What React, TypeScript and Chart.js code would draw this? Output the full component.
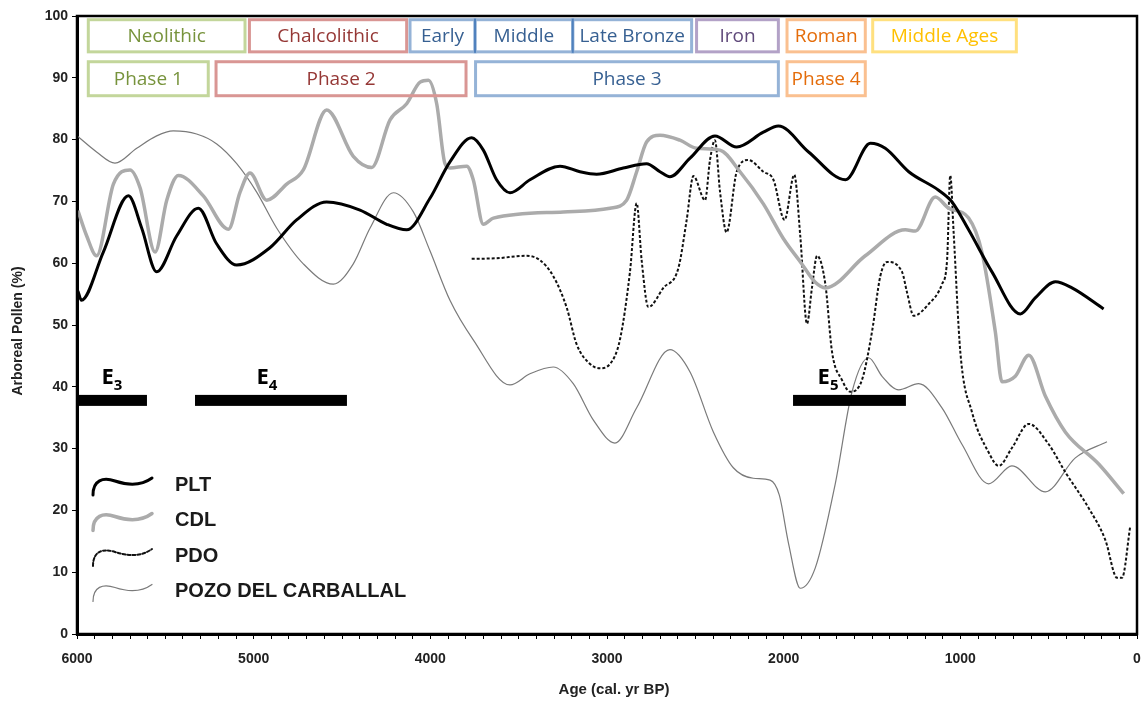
import { useEffect, useRef } from "react";
import { Chart, registerables } from "chart.js";

Chart.register(...registerables);

// PLT
const pltAge = [5995, 5975, 5851, 5709, 5634, 5549, 5436, 5313, 5209, 5096, 4908, 4757, 4587, 4398, 4247, 4134, 4002, 3889, 3766, 3700, 3625, 3549, 3436, 3266, 3153, 3059, 2908, 2776, 2700, 2644, 2530, 2389, 2266, 2115, 2030, 1859, 1650, 1509, 1425, 1292, 1123, 1047, 953, 821, 660, 576, 462, 368, 189];
const pltPollen = [55.5, 54.0, 61.8, 70.9, 65.7, 58.6, 64.4, 68.9, 63.1, 59.7, 62.5, 67.0, 69.9, 68.6, 66.3, 65.4, 70.5, 76.4, 80.3, 78.3, 73.5, 71.4, 73.5, 75.7, 74.8, 74.4, 75.4, 76.1, 74.8, 74.0, 77.0, 80.6, 78.8, 81.2, 82.2, 78.0, 73.5, 79.4, 78.6, 74.8, 71.8, 69.9, 65.4, 58.6, 51.8, 54.4, 57.0, 56.0, 52.6];

// CDL
const cdlAge = [5995, 5945, 5889, 5794, 5700, 5643, 5558, 5492, 5426, 5285, 5143, 5077, 5021, 4926, 4813, 4719, 4587, 4436, 4332, 4228, 4134, 4058, 4011, 3964, 3917, 3889, 3794, 3757, 3700, 3643, 3247, 2983, 2889, 2832, 2776, 2700, 2587, 2493, 2361, 2247, 2115, 2002, 1900, 1821, 1764, 1538, 1311, 1255, 1142, 1066, 953, 878, 802, 764, 689, 613, 519, 406, 217, 75];
const cdlPollen = [68.5, 64.4, 61.2, 72.8, 75.1, 72.2, 61.8, 70.2, 74.2, 70.9, 65.5, 71.5, 74.6, 70.2, 72.8, 75.1, 84.8, 77.3, 75.5, 83.2, 85.8, 89.3, 89.6, 85.8, 76.1, 75.4, 75.7, 73.5, 66.3, 67.3, 68.3, 68.9, 70.2, 74.8, 79.6, 80.7, 79.9, 78.6, 78.3, 74.8, 69.6, 64.0, 60.0, 56.9, 56.0, 61.2, 65.4, 65.2, 70.7, 68.9, 67.3, 61.8, 48.9, 40.8, 41.7, 45.1, 38.5, 32.7, 27.5, 22.7];

// PDO
const pdoAge = [3766, 3625, 3455, 3380, 3304, 3228, 3172, 3096, 3040, 2983, 2927, 2870, 2832, 2804, 2766, 2681, 2596, 2549, 2511, 2445, 2417, 2389, 2360, 2323, 2266, 2200, 2115, 2058, 1995, 1940, 1906, 1868, 1840, 1811, 1764, 1726, 1670, 1623, 1557, 1500, 1453, 1415, 1330, 1302, 1264, 1179, 1104, 1075, 1057, 1038, 1000, 934, 840, 783, 708, 613, 500, 406, 274, 179, 113, 85, 38];
const pdoPollen = [60.7, 60.8, 61.2, 60.5, 57.9, 52.8, 46.9, 43.7, 43.0, 43.7, 47.6, 58.6, 69.7, 60.5, 52.9, 56.0, 59.2, 67.0, 74.1, 70.2, 76.7, 79.9, 71.5, 65.0, 74.8, 76.7, 74.8, 73.5, 67.0, 74.3, 64.4, 50.2, 56.0, 61.2, 56.6, 45.6, 41.1, 39.2, 41.1, 48.9, 57.9, 60.2, 58.6, 55.3, 51.5, 53.4, 56.6, 60.5, 74.2, 65.0, 45.6, 35.9, 29.4, 27.2, 30.1, 34.0, 30.7, 26.2, 20.4, 15.2, 9.1, 9.1, 17.5];

// Pozo del Carballal
const pozoAge = [5995, 5889, 5785, 5662, 5549, 5455, 5323, 5209, 5096, 4983, 4870, 4719, 4549, 4436, 4341, 4209, 4096, 4002, 3889, 3757, 3549, 3436, 3304, 3191, 3077, 2955, 2832, 2644, 2530, 2398, 2285, 2172, 2077, 2025, 1972, 1906, 1821, 1708, 1613, 1519, 1443, 1349, 1236, 1104, 991, 840, 708, 519, 349, 170];
const pozoPollen = [80.5, 78.0, 76.2, 78.6, 80.6, 81.4, 80.9, 79.3, 76.1, 71.5, 65.7, 59.9, 56.6, 59.9, 65.7, 71.4, 68.3, 62.0, 54.0, 47.6, 40.3, 42.1, 43.2, 40.5, 34.6, 30.9, 36.6, 46.0, 42.4, 32.7, 26.9, 25.2, 24.9, 22.5, 14.6, 7.4, 10.7, 24.3, 39.2, 44.7, 41.7, 39.5, 40.5, 36.6, 30.7, 24.3, 27.2, 23.0, 28.5, 31.1];

// cultural periods (cal. yr BP)
const periodLabels = ["Neolithic", "Chalcolithic", "Early", "Middle", "Late Bronze", "Iron", "Roman", "Middle Ages"];
const periodFrom = [5936, 5024, 4115, 3747, 3194, 2493, 1981, 1496];
const periodTo = [5049, 4134, 3747, 3194, 2521, 2030, 1538, 683];
const periodGroup = [0, 1, 2, 2, 2, 3, 4, 5];

const phaseLabels = ["Phase 1", "Phase 2", "Phase 3", "Phase 4"];
const phaseFrom = [5936, 5213, 3744, 1981];
const phaseTo = [5257, 3798, 2030, 1538];
const phaseGroup = [0, 1, 2, 4];

// events
const eventNames = ["3", "4", "5"];
const eventFrom = [6000, 5332, 1947];
const eventTo = [5604, 4472, 1308];
const eventLabelAt = [5802, 4925, 1749];
const eventLevel = 37.8;

const legendNames = ["PLT", "CDL", "PDO", "POZO DEL CARBALLAL"];

const groupBorder = ["#c3d69b", "#d99694", "#95b3d7", "#b3a2c7", "#fac090", "#ffe07f"];
const groupText = ["#77933c", "#953735", "#376092", "#604a7b", "#e46c0a", "#ffc000"];

const toPoints = (ages: number[], vals: number[]) => ages.map((a, i) => ({ x: a, y: vals[i] }));

const overlay = {
  id: "overlay",
  afterDatasetsDraw(chart: any) {
    const { ctx, chartArea: area, scales } = chart;
    const xs = scales.x;
    const ys = scales.y;
    ctx.save();

    const drawBox = (label: string, from: number, to: number, g: number, top: number, bottom: number) => {
      const x0 = xs.getPixelForValue(from);
      const x1 = xs.getPixelForValue(to);
      const y0 = ys.getPixelForValue(top);
      const y1 = ys.getPixelForValue(bottom);
      ctx.lineWidth = 3;
      ctx.strokeStyle = groupBorder[g];
      ctx.setLineDash([]);
      ctx.strokeRect(x0, y0, x1 - x0, y1 - y0);
      ctx.fillStyle = groupText[g];
      ctx.font = '19px "Open Sans"';
      ctx.textAlign = "center";
      ctx.textBaseline = "middle";
      ctx.fillText(label, (x0 + x1) / 2, (y0 + y1) / 2 + 1);
    };

    periodLabels.forEach((l, i) => drawBox(l, periodFrom[i], periodTo[i], periodGroup[i], 99.4, 94.2));
    // dark dividers inside the Bronze age box
    periodLabels.forEach((_, i) => {
      if (i > 0 && periodGroup[i] === periodGroup[i - 1] && periodFrom[i] === periodTo[i - 1]) {
        const xp = xs.getPixelForValue(periodFrom[i]);
        ctx.strokeStyle = "#4f81bd";
        ctx.lineWidth = 2;
        ctx.beginPath();
        ctx.moveTo(xp, ys.getPixelForValue(99.4) - 1);
        ctx.lineTo(xp, ys.getPixelForValue(94.2) + 1);
        ctx.stroke();
      }
    });
    phaseLabels.forEach((l, i) => drawBox(l, phaseFrom[i], phaseTo[i], phaseGroup[i], 92.6, 87.1));

    // event bars
    eventNames.forEach((n, i) => {
      const x0 = xs.getPixelForValue(eventFrom[i]);
      const x1 = xs.getPixelForValue(eventTo[i]);
      const yc = ys.getPixelForValue(eventLevel);
      ctx.fillStyle = "#000";
      ctx.fillRect(x0, yc - 5.5, x1 - x0, 11);
      const xl = xs.getPixelForValue(eventLabelAt[i]);
      ctx.font = 'bold 22px "Open Sans"';
      ctx.textBaseline = "alphabetic";
      ctx.textAlign = "left";
      const wE = ctx.measureText("E").width;
      ctx.font = 'bold 15px "Open Sans"';
      const wS = ctx.measureText(n).width;
      const start = xl - (wE + wS) / 2;
      ctx.font = 'bold 22px "Open Sans"';
      ctx.fillText("E", start, yc - 16);
      ctx.font = 'bold 15px "Open Sans"';
      ctx.fillText(n, start + wE, yc - 10);
    });

    // legend
    const lx = area.left + 16;
    const ly = area.bottom - 150;
    chart.data.datasets.forEach((ds: any, i: number) => {
      const cy = ly + i * 35.5;
      ctx.strokeStyle = ds.borderColor;
      ctx.lineWidth = ds.borderWidth;
      ctx.setLineDash(ds.borderDash || []);
      ctx.lineCap = "round";
      ctx.beginPath();
      ctx.moveTo(lx, cy + 11);
      ctx.bezierCurveTo(lx, cy - 4, lx + 10, cy - 7, lx + 22, cy - 3);
      ctx.bezierCurveTo(lx + 34, cy + 1, lx + 48, cy + 2, lx + 59, cy - 6);
      ctx.stroke();
      ctx.setLineDash([]);
      ctx.fillStyle = "#1a1a1a";
      ctx.font = 'bold 20px "Liberation Sans"';
      ctx.textAlign = "left";
      ctx.textBaseline = "middle";
      ctx.fillText(legendNames[i], lx + 82, cy + 1);
    });
    ctx.restore();
  },
  afterDraw(chart: any) {
    const { ctx, chartArea: area } = chart;
    ctx.save();
    ctx.strokeStyle = "#000";
    ctx.lineWidth = 2.5;
    ctx.strokeRect(area.left, area.top, area.right - area.left, area.bottom - area.top);
    ctx.fillStyle = "#222";
    ctx.font = 'bold 15px "Liberation Sans"';
    ctx.textAlign = "center";
    ctx.textBaseline = "middle";
    ctx.fillText("Age (cal. yr BP)", 614, 690);
    ctx.translate(18, (area.top + area.bottom) / 2 + 6);
    ctx.rotate(-Math.PI / 2);
    ctx.font = 'bold 14px "Liberation Sans"';
    ctx.fillText("Arboreal Pollen (%)", 0, 0);
    ctx.restore();
  },
};

const App = () => {
  const canvasRef = useRef<HTMLCanvasElement>(null);
  const chartRef = useRef<Chart | null>(null);

  useEffect(() => {
    document.body.style.margin = "0";
    if (!canvasRef.current) return;
    chartRef.current?.destroy();
    const tickFont = { family: "Liberation Sans", size: 14, weight: "bold" as const };
    chartRef.current = new Chart(canvasRef.current, {
      type: "line",
      data: {
        datasets: [
          { label: "PLT", data: toPoints(pltAge, pltPollen), borderColor: "#000", borderWidth: 3 },
          { label: "CDL", data: toPoints(cdlAge, cdlPollen), borderColor: "#ababab", borderWidth: 3.5 },
          { label: "PDO", data: toPoints(pdoAge, pdoPollen), borderColor: "#111", borderWidth: 2, borderDash: [3, 2] },
          { label: "POZO DEL CARBALLAL", data: toPoints(pozoAge, pozoPollen), borderColor: "#7a7a7a", borderWidth: 1.2 },
        ],
      },
      options: {
        animation: false,
        responsive: false,
        events: [],
        elements: {
          point: { radius: 0 },
          line: { cubicInterpolationMode: "monotone", fill: false },
        },
        layout: { padding: { top: 16, right: 5, left: 0, bottom: 0 } },
        plugins: { legend: { display: false }, tooltip: { enabled: false } },
        scales: {
          x: {
            type: "linear",
            reverse: true,
            min: 0,
            max: 6000,
            afterFit: (s: any) => {
              s.height = 68;
              s.paddingLeft = 0;
              s.paddingRight = 0;
            },
            grid: { drawOnChartArea: false, drawTicks: true, tickLength: 5, color: "#000" },
            border: { display: true, width: 3, color: "#000" },
            ticks: {
              stepSize: 100,
              autoSkip: false,
              maxRotation: 0,
              padding: 12,
              color: "#222",
              font: tickFont,
              callback: (v: any) => (Number(v) % 1000 === 0 ? String(v) : ""),
            },
          },
          y: {
            min: 0,
            max: 100,
            afterFit: (s: any) => { s.width = 77; },
            grid: { drawOnChartArea: false, drawTicks: true, tickLength: 5, color: "#000" },
            border: { display: true, width: 3, color: "#000" },
            ticks: { stepSize: 10, padding: 4, color: "#222", font: tickFont },
          },
        },
      },
      plugins: [overlay],
    });
    return () => {
      chartRef.current?.destroy();
      chartRef.current = null;
    };
  }, []);

  return (
    <div style={{ width: 1142, height: 702, background: "#fff" }}>
      <canvas ref={canvasRef} width={1142} height={702} style={{ width: 1142, height: 702 }} />
    </div>
  );
};

export default App;
